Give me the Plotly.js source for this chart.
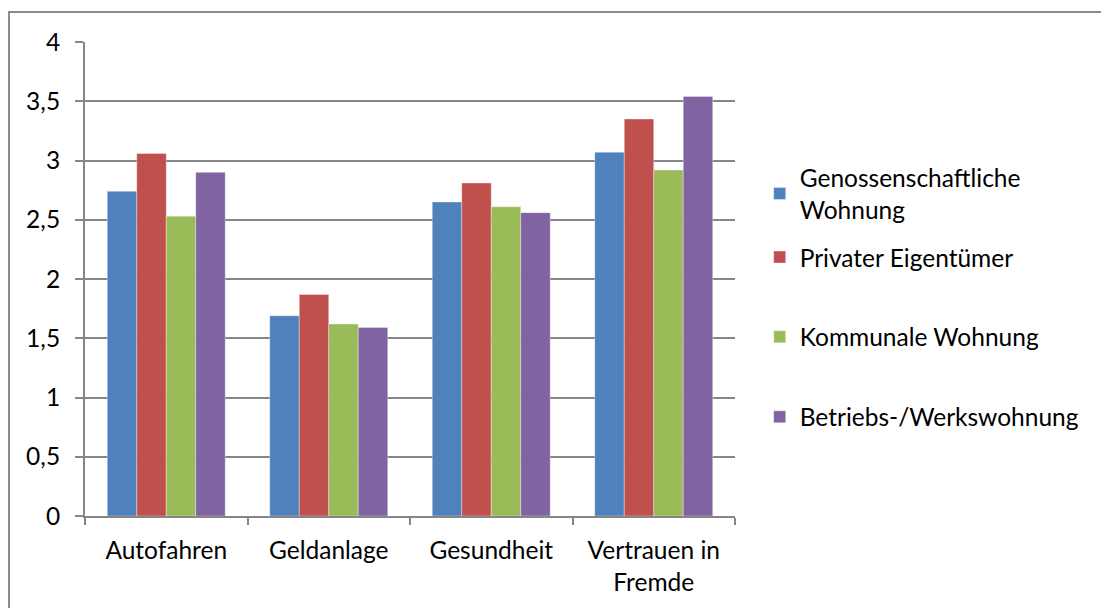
<!DOCTYPE html>
<html>
<head>
<meta charset="utf-8">
<script src="https://cdn.plot.ly/plotly-3.0.1.min.js"></script>
<style>
  html, body { margin: 0; padding: 0; background: #fff; }
  #wrap { position: relative; width: 1101px; height: 608px; overflow: hidden; }
  #chart { position: absolute; left: 0; top: 0; width: 1101px; height: 608px; }
  #frame { position: absolute; left: 8px; top: 11px; width: 1200px; height: 700px;
           border-left: 2px solid #8c8c8c; border-top: 2px solid #8c8c8c; pointer-events: none; }
</style>
</head>
<body>
<div id="wrap">
  <div id="chart"></div>
  <div id="frame"></div>
</div>
<script>
const categories = ["Autofahren", "Geldanlage", "Gesundheit", "Vertrauen in<br>Fremde"];
const seriesNames = ["Genossenschaftliche<br>Wohnung", "Privater Eigentümer", "Kommunale Wohnung", "Betriebs-/Werkswohnung"];
const genossenschaftlich = [2.74, 1.69, 2.65, 3.07];
const privat = [3.06, 1.87, 2.81, 3.35];
const kommunal = [2.53, 1.62, 2.61, 2.92];
const betrieb = [2.90, 1.59, 2.56, 3.54];
const yTickVals = [0, 0.5, 1, 1.5, 2, 2.5, 3, 3.5, 4];
const yTickText = ["0", "0,5", "1", "1,5", "2", "2,5", "3", "3,5", "4"];

const colors = ["#4F81BD", "#C0504D", "#9BBB59", "#8064A2"];
const values = [genossenschaftlich, privat, kommunal, betrieb];
const legendIds = ["legend", "legend2", "legend3", "legend4"];
const legendY = [0.680, 0.546, 0.378, 0.209];

const FONT = "Lato, 'Open Sans', sans-serif";
const fontSize = 24.5;

const traces = values.map((v, i) => ({
  type: "bar",
  name: seriesNames[i],
  x: categories,
  y: v,
  marker: { color: colors[i], line: { color: "rgba(255,255,255,0.35)", width: 1 } },
  legend: legendIds[i],
  hoverinfo: "skip"
}));

const layout = {
  width: 1101,
  height: 608,
  margin: { l: 85, r: 366, t: 42, b: 92 },
  paper_bgcolor: "rgba(0,0,0,0)",
  plot_bgcolor: "rgba(0,0,0,0)",
  barmode: "group",
  bargap: 0.274,
  bargroupgap: 0,
  font: { family: FONT, size: fontSize, color: "#000" },
  xaxis: {
    type: "category",
    showline: true,
    linecolor: "#868686",
    linewidth: 2,
    ticks: "outside",
    tickson: "boundaries",
    ticklen: 7,
    tickwidth: 2,
    tickcolor: "#868686",
    showgrid: false,
    ticklabelstandoff: 12,
    tickfont: { family: FONT, size: fontSize, color: "#000" }
  },
  yaxis: {
    range: [0, 4],
    tickvals: yTickVals,
    ticktext: yTickText,
    showline: true,
    linecolor: "#868686",
    linewidth: 2,
    ticks: "outside",
    ticklen: 8,
    tickwidth: 2,
    tickcolor: "#868686",
    showgrid: true,
    gridcolor: "#868686",
    gridwidth: 2,
    zeroline: false,
    ticklabelstandoff: 10,
    tickfont: { family: FONT, size: fontSize, color: "#000" }
  },
  showlegend: true
};

legendIds.forEach((id, i) => {
  layout[id] = {
    x: 1.038, xanchor: "left",
    y: legendY[i], yanchor: "middle",
    bgcolor: "rgba(0,0,0,0)",
    font: { family: FONT, size: fontSize, color: "#000" },
    itemclick: false, itemdoubleclick: false
  };
});

Plotly.newPlot("chart", traces, layout, { displayModeBar: false, staticPlot: true });
</script>
</body>
</html>
